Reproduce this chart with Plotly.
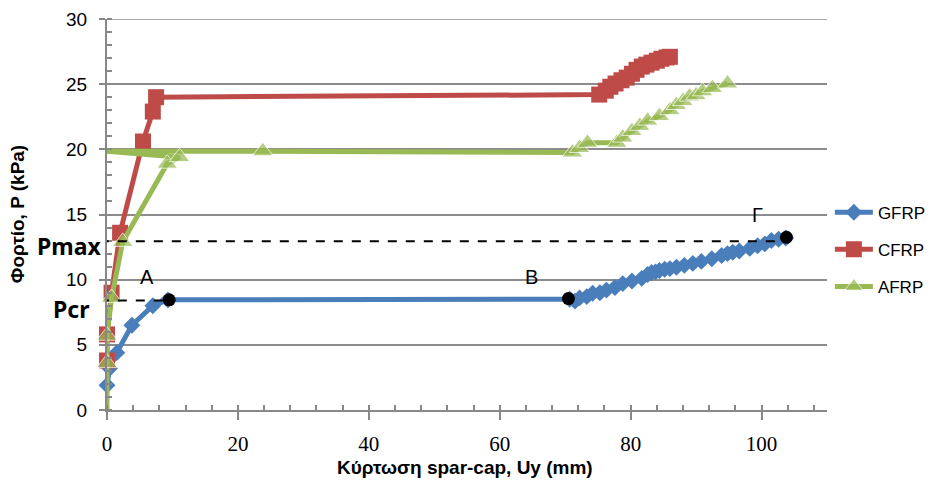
import plotly.graph_objects as go

# ---------------- data ----------------
gfrp_x = [0, 0.4, 1.5, 3.8, 7.0, 9.3, 70.7, 71.5, 72.2, 73.3, 74.2, 75.3, 76.3, 77.6, 78.8, 80.2,
          81.7, 82.6, 83.2, 83.8, 84.4, 85.2, 86.0, 87.0, 88.2, 89.5, 90.8, 92.4, 93.9, 94.8,
          95.6, 96.6, 98.2, 99.4, 100.5, 101.5, 102.6, 103.7]
gfrp_y = [1.9, 3.2, 4.4, 6.5, 8.0, 8.45, 8.5, 8.35, 8.6, 8.7, 8.96, 9.0, 9.2, 9.4, 9.7, 9.9,
          10.1, 10.4, 10.55, 10.6, 10.7, 10.8, 10.85, 10.95, 11.1, 11.25, 11.4, 11.6, 11.85, 12.0,
          12.1, 12.2, 12.4, 12.6, 12.75, 13.0, 13.1, 13.2]

cfrp_x = [0, 0, 0.7, 2.0, 5.5, 7.0, 7.5, 75.2, 76.2, 76.9, 77.7, 78.6, 79.4, 80.2, 80.9, 81.7,
          82.4, 83.2, 84.0, 84.7, 85.5, 86.0]
cfrp_y = [3.8, 5.8, 9.0, 13.6, 20.6, 22.9, 24.0, 24.2, 24.5, 24.8, 25.05, 25.3, 25.5, 25.8, 26.1,
          26.35, 26.5, 26.65, 26.8, 26.95, 27.05, 27.1]

afrp_x = [0, 0, 0, 0.7, 2.4, 9.2, 11.1, 0, 23.8, 71.1, 72.2, 73.4, 77.9, 78.8, 80.2, 81.4, 82.6,
          84.4, 86.0, 87.0, 88.0, 89.0, 90.0, 91.0, 92.5, 94.8]
afrp_y = [0, 3.6, 5.7, 8.6, 12.9, 18.9, 19.4, 19.85, 19.85, 19.75, 20.1, 20.5, 20.5, 20.9, 21.4,
          21.8, 22.2, 22.55, 23.0, 23.4, 23.7, 24.05, 24.15, 24.45, 24.7, 25.05]
afrp_unmarked = [0, 7]  # points of the AFRP series drawn without a marker

key_x = [9.5, 70.5, 103.8]
key_y = [8.45, 8.55, 13.25]
key_labels = ["A", "B", "Γ"]

p_max = 12.95
p_cr = 8.4

x_ticks = [0, 20, 40, 60, 80, 100]
y_ticks = [0, 5, 10, 15, 20, 25, 30]

x_title = "Κύρτωση spar-cap, Uy (mm)"
y_title = "Φορτίο, P (kPa)"

# ---------------- figure ----------------
BLUE = "#4a7ebb"
RED = "#be4b48"
GREEN = "#98b954"
AXIS = "#888888"
GRID = "#8c8c8c"
SANS = "Liberation Sans, Arial, sans-serif"

fig = go.Figure()

fig.add_trace(go.Scatter(
    x=gfrp_x, y=gfrp_y, name="GFRP", mode="lines+markers", legendgroup="g",
    line=dict(color=BLUE, width=5),
    marker=dict(symbol="diamond", size=13, color=BLUE),
    cliponaxis=False))

fig.add_trace(go.Scatter(
    x=cfrp_x, y=cfrp_y, name="CFRP", mode="lines+markers", legendgroup="c",
    line=dict(color=RED, width=5),
    marker=dict(symbol="square", size=16, color=RED),
    cliponaxis=False))

a_sizes = [0 if i in afrp_unmarked else 18 for i in range(len(afrp_x))]
fig.add_trace(go.Scatter(
    x=afrp_x, y=afrp_y, name="AFRP", mode="lines+markers", legendgroup="a",
    line=dict(color=GREEN, width=5),
    marker=dict(symbol="triangle-up", size=a_sizes, color=GREEN),
    cliponaxis=False))

# top gridline (plotly drops the grid line at the range edge)
fig.add_shape(type="line", xref="paper", yref="y", x0=0, x1=1, y0=y_ticks[-1], y1=y_ticks[-1],
              line=dict(color=GRID, width=1.5), layer="below")

# reference dashed lines
fig.add_shape(type="line", xref="x", yref="y", x0=-1.1, x1=key_x[2], y0=p_max, y1=p_max,
              line=dict(color="black", width=2, dash="dash"), layer="above")
fig.add_shape(type="line", xref="x", yref="y", x0=-1.1, x1=key_x[0], y0=p_cr, y1=p_cr,
              line=dict(color="black", width=2, dash="dash"), layer="above")

# key points
fig.add_trace(go.Scatter(
    x=key_x, y=key_y, mode="markers", showlegend=False,
    marker=dict(symbol="circle", size=13, color="black"), cliponaxis=False))

shifts = [(-22, 23), (-37, 22), (-29, 22)]
for (kx, ky, lab), (dx, dy) in zip(zip(key_x, key_y, key_labels), shifts):
    fig.add_annotation(x=kx, y=ky, text=lab, showarrow=False, xshift=dx, yshift=dy,
                       font=dict(family=SANS, size=20, color="black"))

fig.add_annotation(x=0, y=p_max, xref="paper", yref="y", text="<b>Pmax</b>", showarrow=False,
                   xanchor="right", xshift=-4, yshift=-5,
                   font=dict(family="Noto Sans, Liberation Sans, sans-serif", size=23,
                             color="black"))
fig.add_annotation(x=0, y=p_cr, xref="paper", yref="y", text="<b>Pcr</b>", showarrow=False,
                   xanchor="right", xshift=-16, yshift=-8,
                   font=dict(family="Noto Sans, Liberation Sans, sans-serif", size=23,
                             color="black"))

# axis titles
fig.add_annotation(x=-0.124, y=0.5, xref="paper", yref="paper", text="<b>" + y_title + "</b>",
                   textangle=-90, showarrow=False, xanchor="center", yanchor="middle",
                   font=dict(family=SANS, size=19, color="black"))
fig.add_annotation(x=0.497, y=-0.147, xref="paper", yref="paper", text="<b>" + x_title + "</b>",
                   showarrow=False, xanchor="center", yanchor="middle",
                   font=dict(family=SANS, size=19, color="black"))

fig.update_layout(
    width=940, height=488,
    margin=dict(l=99, r=121, t=11, b=86, autoexpand=False),
    paper_bgcolor="white", plot_bgcolor="white",
    showlegend=True,
    legend=dict(x=1.004, y=0.41, xanchor="left", yanchor="middle",
                font=dict(family=SANS, size=17, color="black"),
                tracegroupgap=12, itemwidth=38, bgcolor="rgba(0,0,0,0)"),
    xaxis=dict(
        range=[0, 110], tickvals=x_ticks, ticktext=[str(v) for v in x_ticks],
        showgrid=False, zeroline=False, automargin=False, ticklabeloverflow="allow",
        showline=True, linecolor=AXIS, linewidth=2,
        ticks="outside", ticklen=8, tickcolor=AXIS, tickwidth=2,
        minor=dict(dtick=4, ticks="inside", ticklen=5, tickcolor=AXIS, tickwidth=1.5),
        tickfont=dict(family="Liberation Serif, Times New Roman, serif", size=21, color="black"),
        ticklabelstandoff=6,
    ),
    yaxis=dict(
        range=[0, 30], tickvals=y_ticks, ticktext=[str(v) for v in y_ticks],
        showgrid=True, gridcolor=GRID, gridwidth=1.5, zeroline=False, automargin=False,
        ticklabeloverflow="allow",
        showline=True, linecolor=AXIS, linewidth=2,
        ticks="outside", ticklen=6, tickcolor=AXIS, tickwidth=2,
        minor=dict(dtick=1, ticks="inside", ticklen=5, tickcolor=AXIS, tickwidth=1.5),
        tickfont=dict(family=SANS, size=19, color="black"),
        ticklabelstandoff=8,
    ),
)

fig.write_html("out.html")
